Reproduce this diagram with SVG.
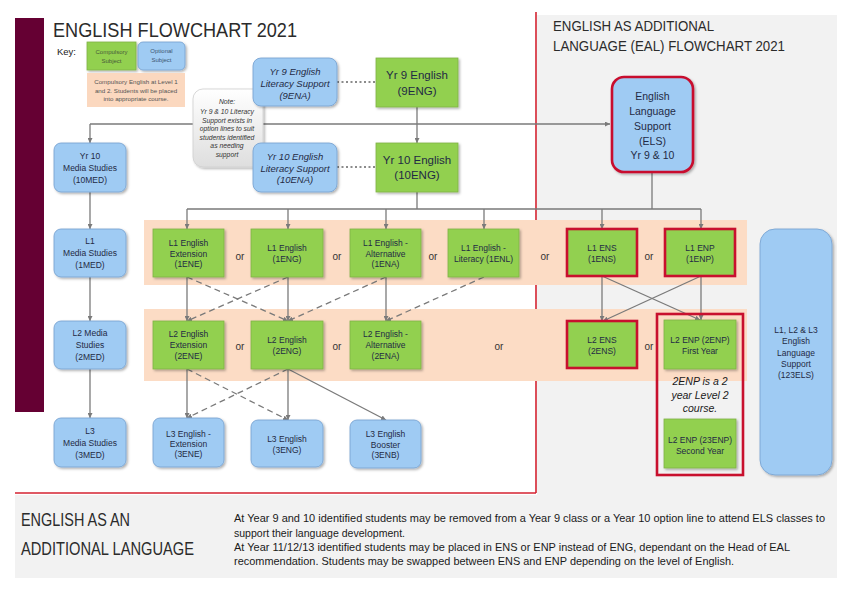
<svg xmlns="http://www.w3.org/2000/svg" width="850" height="601" viewBox="0 0 850 601">
<defs>
<style>
text{font-family:"Liberation Sans",Arial,sans-serif}
.g{fill:#92d050;stroke:#7fb144;stroke-width:0.8}
.b{fill:#9fcbf3;stroke:#7aa5d2;stroke-width:0.9}
.r{stroke:#c8102e;stroke-width:2.6}
.t{font-size:8.5px;fill:#1f2a44;text-anchor:middle}
.ti{font-size:9.5px;fill:#1f2a44;text-anchor:middle;font-style:italic}
.tb{font-size:11.5px;fill:#1f2a44;text-anchor:middle}
.or{font-size:10px;fill:#333;text-anchor:middle}
.c{stroke:#7a7a7a;stroke-width:1.3;fill:none}
.d{stroke-dasharray:6 4}
.dot{stroke:#666;stroke-width:1.3;stroke-dasharray:2 2.5;fill:none}
.band{fill:#fcdcc5}
.h{fill:#2b2b2b}
.p{font-size:10.6px;fill:#1a1a1a}
</style>
<marker id="a" viewBox="0 0 6 6" refX="6" refY="3" markerWidth="5" markerHeight="5" markerUnits="userSpaceOnUse" orient="auto">
<path d="M0,0 L6,3 L0,6 z" fill="#7a7a7a"/>
</marker>
<filter id="sh" x="-10%" y="-10%" width="130%" height="130%">
<feDropShadow dx="1.5" dy="1.5" stdDeviation="1" flood-color="#000" flood-opacity="0.3"/>
</filter>
<linearGradient id="ng" x1="0" y1="0" x2="0" y2="1">
<stop offset="0" stop-color="#ffffff"/>
<stop offset="1" stop-color="#dedede"/>
</linearGradient>
</defs>

<rect x="0" y="0" width="850" height="601" fill="#ffffff"/>
<!-- backgrounds -->
<rect x="537" y="15" width="300" height="480" fill="#f2f2f2"/>
<rect x="15" y="495" width="822" height="83" fill="#f2f2f2"/>
<rect x="15" y="18" width="29" height="394" fill="#650033"/>
<line x1="536" y1="12" x2="536" y2="493" stroke="#d42230" stroke-width="1.6"/>
<line x1="15" y1="493" x2="536" y2="493" stroke="#d42230" stroke-width="1.6"/>
<rect class="band" x="144" y="220" width="603" height="65"/>
<rect class="band" x="144" y="309" width="603" height="72"/>

<!-- titles -->
<text x="53" y="37" font-size="21" class="h" textLength="244" lengthAdjust="spacingAndGlyphs">ENGLISH FLOWCHART 2021</text>
<text x="553" y="31" font-size="14" class="h" textLength="161" lengthAdjust="spacingAndGlyphs">ENGLISH AS ADDITIONAL</text>
<text x="553" y="51" font-size="14" class="h" textLength="232" lengthAdjust="spacingAndGlyphs">LANGUAGE (EAL) FLOWCHART 2021</text>
<text x="21" y="526" font-size="17.5" class="h" textLength="109" lengthAdjust="spacingAndGlyphs">ENGLISH AS AN</text>
<text x="21" y="555" font-size="17.5" class="h" textLength="173" lengthAdjust="spacingAndGlyphs">ADDITIONAL LANGUAGE</text>
<g id="paragraph">
<text class="p" x="234" y="522" textLength="591" lengthAdjust="spacingAndGlyphs">At Year 9 and 10 identified students may be removed from a Year 9 class or a Year 10 option line to attend ELS classes to</text>
<text class="p" x="234" y="537" textLength="171" lengthAdjust="spacingAndGlyphs">support their language development.</text>
<text class="p" x="234" y="551" textLength="556" lengthAdjust="spacingAndGlyphs">At Year 11/12/13  identified students may be placed in ENS or ENP instead of ENG, dependant on the Head of EAL</text>
<text class="p" x="234" y="565" textLength="500" lengthAdjust="spacingAndGlyphs">recommendation. Students may be swapped between ENS and ENP depending on the level of English.</text>
</g>

<!-- key -->
<g id="key">
<text x="57" y="55" font-size="9.5" fill="#222">Key:</text>
<rect class="g" x="87" y="42" width="49" height="28" filter="url(#sh)"/>
<text x="111.5" y="54" font-size="6" fill="#4a5a3a" text-anchor="middle">Compulsory</text>
<text x="111.5" y="63" font-size="6" fill="#4a5a3a" text-anchor="middle">Subject</text>
<rect class="b" x="138" y="42" width="47" height="28" rx="5" filter="url(#sh)"/>
<text x="161.5" y="53" font-size="6" fill="#3d5670" text-anchor="middle">Optional</text>
<text x="161.5" y="62" font-size="6" fill="#3d5670" text-anchor="middle">Subject</text>
<rect x="87" y="73" width="98" height="34" fill="#fbd8bf"/>
<text x="136" y="84" font-size="6.2" fill="#555" text-anchor="middle">Compulsory English at Level 1</text>
<text x="136" y="92.5" font-size="6.2" fill="#555" text-anchor="middle">and 2. Students will be placed</text>
<text x="136" y="101" font-size="6.2" fill="#555" text-anchor="middle">into appropriate course.</text>
</g>

<!-- connectors -->
<g id="connectors">
<path class="c" d="M90,124 H610" marker-end="url(#a)"/>
<path class="c" d="M90,124 V143" marker-end="url(#a)"/>
<path class="dot" d="M337,82 H376"/>
<path class="dot" d="M337,167 H376"/>
<path class="c" d="M417,107 V143" marker-end="url(#a)"/>
<path class="c" d="M417,192 V209 M187,209 H701 M652,172 V209"/>
<path class="c" d="M187,209 V229" marker-end="url(#a)"/>
<path class="c" d="M288,209 V229" marker-end="url(#a)"/>
<path class="c" d="M386,209 V229" marker-end="url(#a)"/>
<path class="c" d="M484,209 V229" marker-end="url(#a)"/>
<path class="c" d="M602,209 V229" marker-end="url(#a)"/>
<path class="c" d="M701,209 V229" marker-end="url(#a)"/>
<path class="c" d="M90,192 V229" marker-end="url(#a)"/>
<path class="c" d="M90,277 V321" marker-end="url(#a)"/>
<path class="c" d="M90,369 V418" marker-end="url(#a)"/>
<path class="c" d="M187,277 V321" marker-end="url(#a)"/>
<path class="c" d="M288,277 V321" marker-end="url(#a)"/>
<path class="c" d="M386,277 V321" marker-end="url(#a)"/>
<path class="c d" d="M187,277 L288,321" marker-end="url(#a)"/>
<path class="c d" d="M288,277 L187,321" marker-end="url(#a)"/>
<path class="c d" d="M386,277 L288,321" marker-end="url(#a)"/>
<path class="c d" d="M484,277 L386,321" marker-end="url(#a)"/>
<path class="c" d="M602,276 V321" marker-end="url(#a)"/>
<path class="c" d="M701,276 V320" marker-end="url(#a)"/>
<path class="c" d="M602,276 L700,320" marker-end="url(#a)"/>
<path class="c" d="M701,276 L603,321" marker-end="url(#a)"/>
<path class="c" d="M187,369 V418" marker-end="url(#a)"/>
<path class="c" d="M288,369 V420" marker-end="url(#a)"/>
<path class="c d" d="M187,369 L288,420" marker-end="url(#a)"/>
<path class="c d" d="M288,369 L187,418" marker-end="url(#a)"/>
<path class="c" d="M288,369 L386,420" marker-end="url(#a)"/>
</g>

<!-- note -->
<g id="note">
<rect x="193" y="89" width="70" height="78" rx="10" fill="url(#ng)" stroke="#cfcfcf" stroke-width="0.8" filter="url(#sh)"/>
<g font-size="6.8" fill="#333" text-anchor="middle" font-style="italic">
<text x="227" y="104">Note:</text>
<text x="227" y="114">Yr 9 &amp; 10 Literacy</text>
<text x="227" y="122.5">Support exists in</text>
<text x="227" y="131">option lines to suit</text>
<text x="227" y="139.5">students identified</text>
<text x="227" y="148">as needing</text>
<text x="227" y="156.5">support</text>
</g>
</g>

<!-- Yr 9 / Yr 10 -->
<g id="n9ENA"><rect class="b" x="253" y="58" width="84" height="48" rx="8" filter="url(#sh)"/>
<text class="ti" x="295" y="75">Yr 9 English</text><text class="ti" x="295" y="87">Literacy Support</text><text class="ti" x="295" y="98.5">(9ENA)</text></g>
<g id="n9ENG"><rect class="g" x="376" y="58" width="82" height="49" filter="url(#sh)"/>
<text class="tb" x="417" y="79">Yr 9 English</text><text class="tb" x="417" y="95">(9ENG)</text></g>
<g id="n10ENA"><rect class="b" x="253" y="143" width="84" height="49" rx="8" filter="url(#sh)"/>
<text class="ti" x="295" y="160">Yr 10 English</text><text class="ti" x="295" y="171.5">Literacy Support</text><text class="ti" x="295" y="182.5">(10ENA)</text></g>
<g id="n10ENG"><rect class="g" x="376" y="143" width="82" height="49" filter="url(#sh)"/>
<text class="tb" x="417" y="164">Yr 10 English</text><text class="tb" x="417" y="179">(10ENG)</text></g>

<!-- ELS -->
<g id="nELS"><rect class="b r" x="612" y="77" width="81" height="95" rx="12" filter="url(#sh)"/>
<g font-size="10.5" fill="#1f2a44" text-anchor="middle">
<text x="652.5" y="100">English</text><text x="652.5" y="115">Language</text><text x="652.5" y="130">Support</text><text x="652.5" y="145">(ELS)</text><text x="652.5" y="159">Yr 9 &amp; 10</text></g></g>

<!-- Media studies -->
<g id="n10MED"><rect class="b" x="54" y="143" width="72" height="49" rx="7" filter="url(#sh)"/>
<text class="t" x="90" y="158.5">Yr 10</text><text class="t" x="90" y="170.5">Media Studies</text><text class="t" x="90" y="182.5">(10MED)</text></g>
<g id="n1MED"><rect class="b" x="54" y="229" width="72" height="48" rx="7" filter="url(#sh)"/>
<text class="t" x="90" y="244">L1</text><text class="t" x="90" y="256">Media Studies</text><text class="t" x="90" y="268">(1MED)</text></g>
<g id="n2MED"><rect class="b" x="54" y="321" width="72" height="48" rx="7" filter="url(#sh)"/>
<text class="t" x="90" y="336">L2 Media</text><text class="t" x="90" y="348">Studies</text><text class="t" x="90" y="360">(2MED)</text></g>
<g id="n3MED"><rect class="b" x="54" y="418" width="72" height="49" rx="7" filter="url(#sh)"/>
<text class="t" x="90" y="433.5">L3</text><text class="t" x="90" y="445.5">Media Studies</text><text class="t" x="90" y="457.5">(3MED)</text></g>

<!-- L1 row -->
<g id="n1ENE"><rect class="g" x="153" y="229" width="71" height="48" filter="url(#sh)"/>
<text class="t" x="188.5" y="246">L1 English</text><text class="t" x="188.5" y="256.5">Extension</text><text class="t" x="188.5" y="267">(1ENE)</text></g>
<g id="n1ENG"><rect class="g" x="251" y="229" width="72" height="48" filter="url(#sh)"/>
<text class="t" x="287" y="250.5">L1 English</text><text class="t" x="287" y="261.5">(1ENG)</text></g>
<g id="n1ENA"><rect class="g" x="350" y="229" width="71" height="48" filter="url(#sh)"/>
<text class="t" x="385.5" y="246">L1 English -</text><text class="t" x="385.5" y="256.5">Alternative</text><text class="t" x="385.5" y="267">(1ENA)</text></g>
<g id="n1ENL"><rect class="g" x="448" y="229" width="71" height="48" filter="url(#sh)"/>
<text class="t" x="483.5" y="250.5">L1 English -</text><text class="t" x="483.5" y="261.5">Literacy (1ENL)</text></g>
<g id="n1ENS"><rect class="g r" x="567" y="229" width="70" height="47"/>
<text class="t" x="602" y="250.5">L1 ENS</text><text class="t" x="602" y="262">(1ENS)</text></g>
<g id="n1ENP"><rect class="g r" x="665" y="229" width="70" height="47"/>
<text class="t" x="700" y="250.5">L1 ENP</text><text class="t" x="700" y="262">(1ENP)</text></g>
<g id="or1"><text class="or" x="240" y="260">or</text><text class="or" x="337" y="260">or</text><text class="or" x="433" y="260">or</text><text class="or" x="545" y="260">or</text><text class="or" x="649" y="260">or</text></g>

<!-- L2 row -->
<g id="n2ENE"><rect class="g" x="153" y="321" width="71" height="48" filter="url(#sh)"/>
<text class="t" x="188.5" y="337">L2 English</text><text class="t" x="188.5" y="348">Extension</text><text class="t" x="188.5" y="359">(2ENE)</text></g>
<g id="n2ENG"><rect class="g" x="251" y="321" width="72" height="48" filter="url(#sh)"/>
<text class="t" x="287" y="343">L2 English</text><text class="t" x="287" y="354">(2ENG)</text></g>
<g id="n2ENA"><rect class="g" x="350" y="321" width="71" height="48" filter="url(#sh)"/>
<text class="t" x="385.5" y="337">L2 English -</text><text class="t" x="385.5" y="348">Alternative</text><text class="t" x="385.5" y="359">(2ENA)</text></g>
<g id="n2ENS"><rect class="g r" x="567" y="321" width="70" height="47"/>
<text class="t" x="602" y="343">L2 ENS</text><text class="t" x="602" y="354">(2ENS)</text></g>
<g id="n2ENPgroup"><rect x="657" y="314" width="86" height="161" fill="none" class="r"/>
<text x="700" y="385" font-size="10.5" font-style="italic" fill="#1a1a1a" text-anchor="middle">2ENP is a 2</text>
<text x="700" y="398.5" font-size="10.5" font-style="italic" fill="#1a1a1a" text-anchor="middle">year Level 2</text>
<text x="700" y="412" font-size="10.5" font-style="italic" fill="#1a1a1a" text-anchor="middle">course.</text></g>
<g id="n2ENP"><rect class="g" x="664" y="320" width="72" height="49" filter="url(#sh)"/>
<text class="t" x="700" y="343">L2 ENP (2ENP)</text><text class="t" x="700" y="354">First Year</text></g>
<g id="n23ENP"><rect class="g" x="664" y="419" width="72" height="49" filter="url(#sh)"/>
<text class="t" x="700" y="443">L2 ENP (23ENP)</text><text class="t" x="700" y="453.5">Second Year</text></g>
<g id="or2"><text class="or" x="240" y="350">or</text><text class="or" x="337" y="350">or</text><text class="or" x="499" y="350">or</text><text class="or" x="649" y="350">or</text></g>

<!-- 123ELS -->
<g id="n123ELS"><rect class="b" x="760" y="229" width="72" height="246" rx="15" filter="url(#sh)"/>
<text class="t" x="796" y="333">L1, L2 &amp; L3</text><text class="t" x="796" y="344">English</text><text class="t" x="796" y="355.5">Language</text><text class="t" x="796" y="366.5">Support</text><text class="t" x="796" y="377.5">(123ELS)</text></g>

<!-- L3 row -->
<g id="n3ENE"><rect class="b" x="153" y="418" width="71" height="49" rx="7" filter="url(#sh)"/>
<text class="t" x="188.5" y="436.5">L3 English -</text><text class="t" x="188.5" y="446.5">Extension</text><text class="t" x="188.5" y="457">(3ENE)</text></g>
<g id="n3ENG"><rect class="b" x="251" y="420" width="72" height="47" rx="7" filter="url(#sh)"/>
<text class="t" x="287" y="442">L3 English</text><text class="t" x="287" y="453">(3ENG)</text></g>
<g id="n3ENB"><rect class="b" x="350" y="420" width="71" height="48" rx="7" filter="url(#sh)"/>
<text class="t" x="385.5" y="437">L3 English</text><text class="t" x="385.5" y="447.5">Booster</text><text class="t" x="385.5" y="458">(3ENB)</text></g>
</svg>
